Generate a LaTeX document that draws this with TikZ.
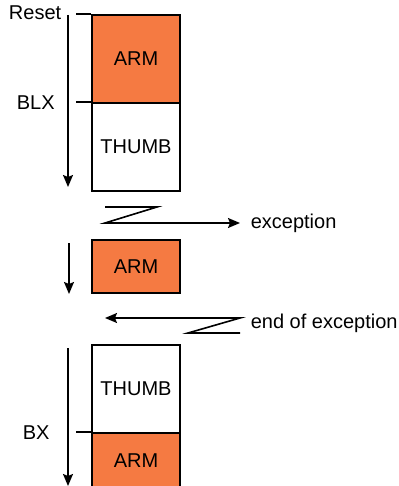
\documentclass[tikz,border=0pt]{standalone}
\usepackage{fontspec}
\setmainfont{Liberation Sans}
\usetikzlibrary{arrows.meta}
\definecolor{armorange}{RGB}{245,122,66}
\begin{document}
\begin{tikzpicture}
        [x=1pt, y=-1pt, line width=1.6pt,
        state/.style={rectangle, draw, minimum width=88pt, inner sep=0pt,
            font=\fontsize{20}{23}\selectfont},
        armstate/.style={state, fill=armorange},
        thumbstate/.style={state, fill=white},
        flow/.style={-{Stealth[length=12pt, width=10pt, inset=2pt]}},
        tick/.style={line width=1.6pt},
        label/.style={font=\fontsize{20}{23}\selectfont, inner sep=0pt}]

        \useasboundingbox (0,0) rectangle (398,486);

        % first run: ARM after reset, then BLX to THUMB
        \node[armstate, minimum height=88pt] (arm1) at (136,59) {ARM};
        \node[thumbstate, minimum height=88pt] (thumb1) at (136,147) {THUMB};

        % exception taken in ARM
        \node[armstate, minimum height=53pt] (arm2) at (136,266.5) {ARM};

        % after return: THUMB, then BX back to ARM
        \node[thumbstate, minimum height=88pt] (thumb3) at (136,389) {THUMB};
        \node[armstate, minimum height=55pt] (arm3) at (136,460.5) {ARM};

        \node[label, anchor=east] (reset) at (62,13) {Reset};
        \node[label, anchor=west] (blx) at (16,103) {BLX};
        \node[label, anchor=west] (bx) at (22,433) {BX};
        \node[label, anchor=west] (exc) at (250,223) {exception};
        \node[label, anchor=west] (endexc) at (250,323) {end of exception};

        % ticks marking where each state starts
        \draw[tick] ([xshift=-15pt]arm1.north west) -- (arm1.north west);
        \draw[tick] ([xshift=-15pt]thumb1.north west) -- (thumb1.north west);
        \draw[tick] ([xshift=-15pt]arm3.north west) -- (arm3.north west);

        % time arrows down the left side
        \coordinate (T1) at (68,15);
        \coordinate (B1) at (68,187);
        \coordinate (T2) at (69,243);
        \coordinate (B2) at (69,294);
        \coordinate (T3) at (68,348);
        \coordinate (B3) at (68,486);
        \draw[flow] (T1) -- (B1);
        \draw[flow] (T2) -- (B2);
        \draw[flow] (T3) -- (B3);

        % zigzag into the exception
        \coordinate (Z1) at (105,207);
        \coordinate (Z2) at (157,207);
        \coordinate (Z3) at (105,223);
        \draw[flow] (Z1) -- (Z2) -- (Z3) -- (exc.west -| 240,0);

        % zigzag back out of it
        \coordinate (R1) at (240,333);
        \coordinate (R2) at (188,333);
        \coordinate (R3) at (240,318);
        \coordinate (R4) at (105,318);
        \draw[flow] (R1) -- (R2) -- (R3) -- (R4);
    \end{tikzpicture}
\end{document}
